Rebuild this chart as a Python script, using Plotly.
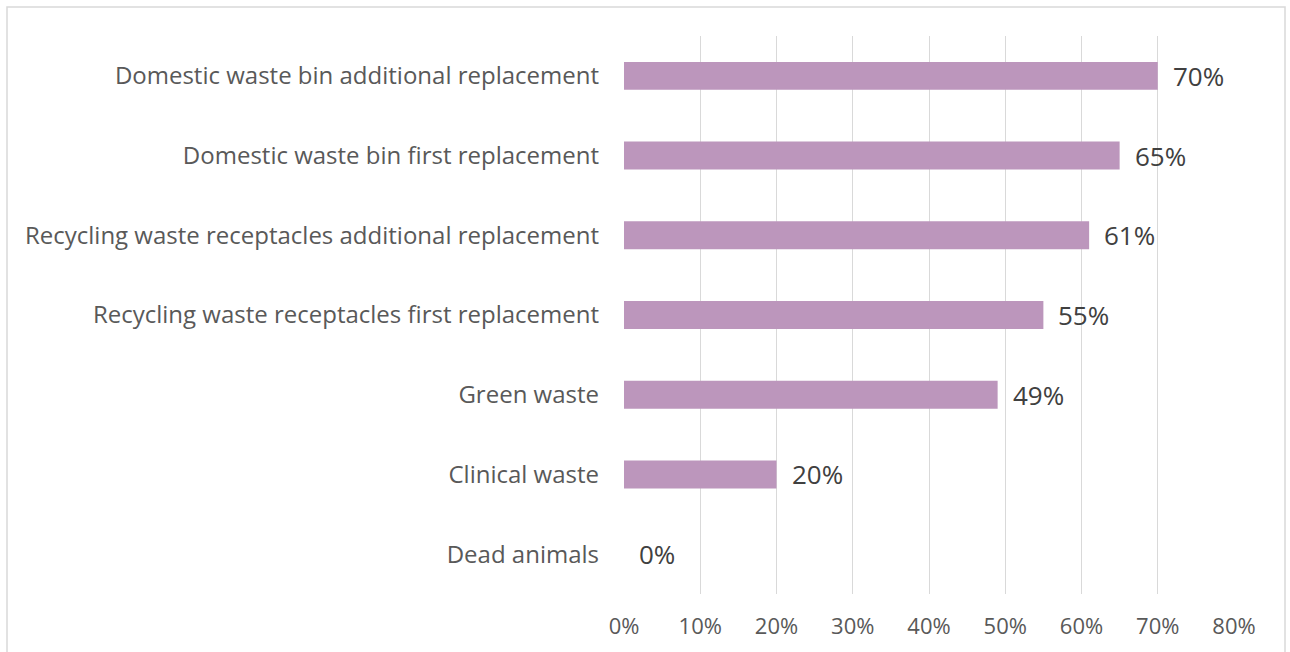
import plotly.graph_objects as go

categories = [
    "Domestic waste bin additional replacement",
    "Domestic waste bin first replacement",
    "Recycling waste receptacles additional replacement",
    "Recycling waste receptacles first replacement",
    "Green waste",
    "Clinical waste",
    "Dead animals",
]
values = [70, 65, 61, 55, 49, 20, 0]
tick_values = [0, 10, 20, 30, 40, 50, 60, 70, 80]
tick_labels = ["0%", "10%", "20%", "30%", "40%", "50%", "60%", "70%", "80%"]

W, H = 1290, 652
FONT = "Open Sans"

fig = go.Figure(
    go.Bar(
        x=values,
        y=categories,
        orientation="h",
        marker=dict(color="#BC96BC", line=dict(width=0)),
        width=0.35,
        hoverinfo="skip",
    )
)

# value labels to the right of each bar
for cat, v in zip(categories, values):
    fig.add_annotation(
        x=v, y=cat, text=f"{v}%", showarrow=False,
        xanchor="left", xshift=13, yshift=0,
        font=dict(family=FONT, size=26, color="#404040"),
    )

# outer chart frame
fig.add_shape(
    type="rect", xref="paper", yref="paper",
    x0=(7 - 624) / (W - 624 - 56), x1=(1285 - 624) / (W - 624 - 56),
    y0=-0.2, y1=1 + (36 - 7) / (H - 36 - 56),
    line=dict(color="#D9D9D9", width=1.5), fillcolor="rgba(0,0,0,0)",
    layer="below",
)

fig.update_layout(
    width=W, height=H,
    margin=dict(l=624, r=56, t=36, b=56),
    paper_bgcolor="white", plot_bgcolor="white",
    showlegend=False,
    bargap=0.65,
    font=dict(family=FONT, color="#595959"),
    xaxis=dict(
        range=[0, 80],
        tickvals=tick_values, ticktext=tick_labels,
        showgrid=True, gridcolor="#D9D9D9", gridwidth=1,
        zeroline=False, showline=False,
        tickfont=dict(family=FONT, size=22, color="#595959"),
        ticks="", ticklabelstandoff=17,
    ),
    yaxis=dict(
        categoryorder="array", categoryarray=categories[::-1],
        showgrid=False, zeroline=False, showline=False,
        tickfont=dict(family=FONT, size=24, color="#595959"),
        ticks="", ticklabelstandoff=24,
    ),
)

fig.write_html("out.html")
